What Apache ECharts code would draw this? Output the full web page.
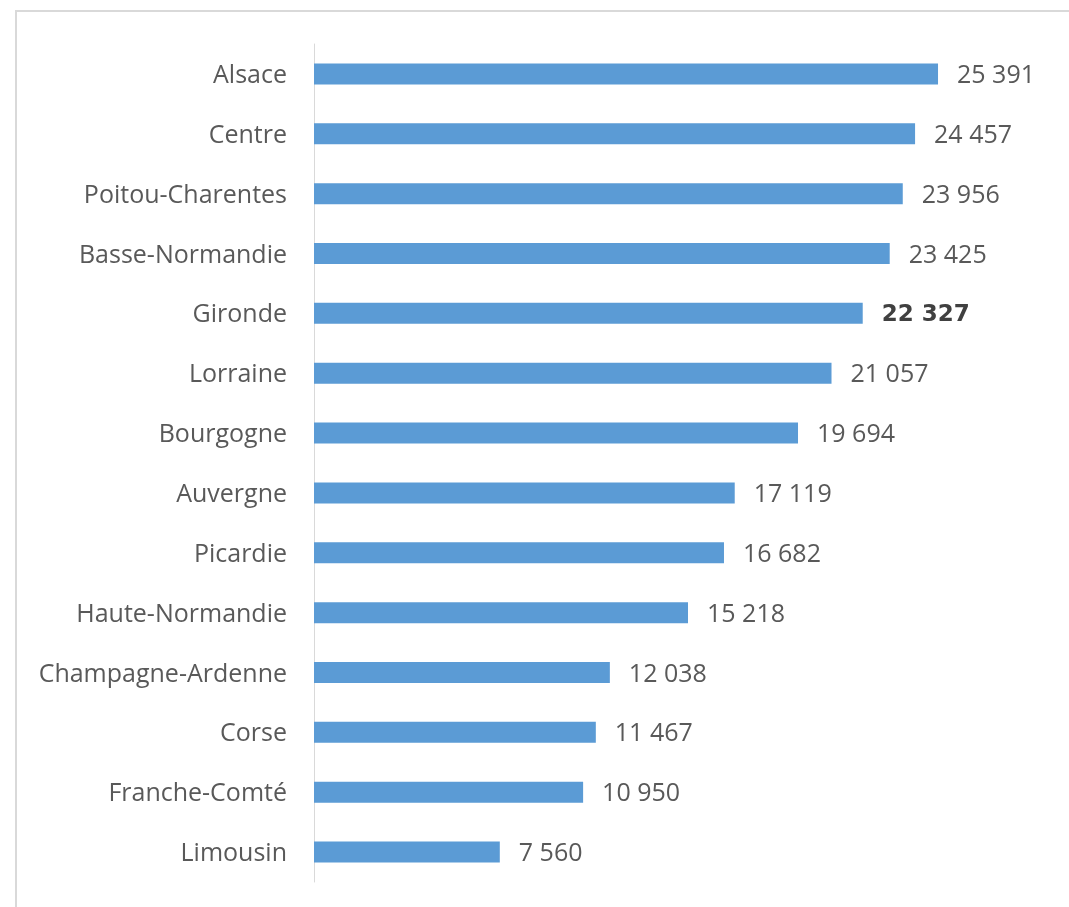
<!DOCTYPE html>
<html>
<head>
<meta charset="utf-8">
<script src="https://cdn.jsdelivr.net/npm/echarts@6/dist/echarts.min.js"></script>
<style>
  html, body { margin: 0; padding: 0; background: #fff; }
  #chart { width: 1069px; height: 907px; }
</style>
</head>
<body>
<div id="chart"></div>
<script>
// regions, top to bottom as in the picture
var regions = ["Alsace", "Centre", "Poitou-Charentes", "Basse-Normandie", "Gironde", "Lorraine",
  "Bourgogne", "Auvergne", "Picardie", "Haute-Normandie", "Champagne-Ardenne", "Corse",
  "Franche-Comté", "Limousin"];
var values = [25391, 24457, 23956, 23425, 22327, 21057, 19694, 17119, 16682, 15218, 12038, 11467, 10950, 7560];
var highlight = "Gironde";

function fmt(v) {
  return String(v).replace(/\B(?=(\d{3})+(?!\d))/g, ' ');
}

var myChart = echarts.init(document.getElementById('chart'));

var data = values.map(function (v, i) {
  var item = { value: v };
  if (regions[i] === highlight) {
    // bold figure is wider in the original
    item.label = { fontWeight: 'bold', color: '#404040', fontFamily: 'DejaVu Sans', fontSize: 23 };
  }
  return item;
});

var option = {
  animation: false,
  backgroundColor: '#fff',
  textStyle: { fontFamily: 'Open Sans' },
  graphic: [{
    type: 'rect',
    shape: { x: 16, y: 11, width: 1100, height: 1000 },
    style: { fill: 'none', stroke: '#D9D9D9', lineWidth: 2 },
    silent: true
  }],
  grid: { left: 314, right: 17.7, top: 44, bottom: 25, containLabel: false },
  xAxis: {
    type: 'value',
    min: 0,
    max: 30000,
    show: false
  },
  yAxis: {
    type: 'category',
    inverse: true,
    data: regions,
    axisLine: { lineStyle: { color: '#D9D9D9', width: 1 } },
    axisTick: { show: false },
    axisLabel: {
      margin: 27,
      formatter: '{a|{value}}',
      rich: { a: { fontSize: 25, color: '#595959', fontFamily: 'Open Sans', padding: [4, 0, 0, 0] } }
    }
  },
  series: [{
    type: 'bar',
    data: data,
    barWidth: 21,
    itemStyle: { color: '#5B9BD5' },
    label: {
      show: true,
      position: 'right',
      distance: 19,
      offset: [0, 2],
      fontSize: 25,
      color: '#595959',
      fontFamily: 'Open Sans',
      formatter: function (p) { return fmt(p.value); }
    }
  }]
};

myChart.setOption(option);
</script>
</body>
</html>
